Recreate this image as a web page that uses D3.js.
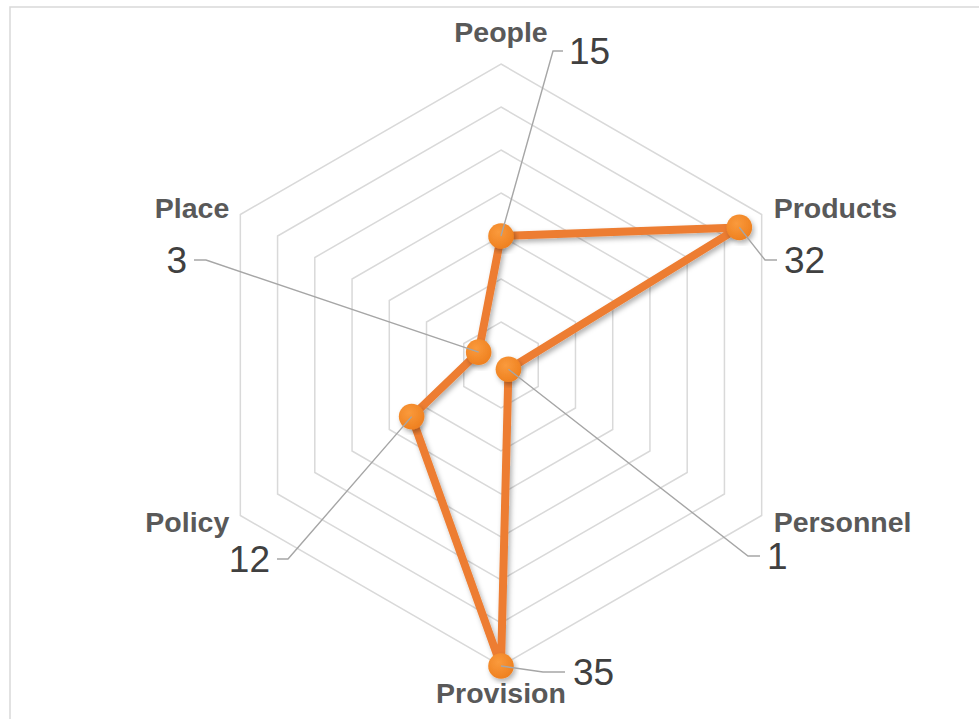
<!DOCTYPE html>
<html>
<head>
<meta charset="utf-8">
<script src="https://cdn.jsdelivr.net/npm/d3@7"></script>
<style>
  html, body { margin: 0; padding: 0; background: #fff; }
  svg { display: block; font-family: "Liberation Sans", Arial, sans-serif; }
</style>
</head>
<body>
<svg id="chart" width="979" height="719"></svg>
<script>
// data
const categories = ["People", "Products", "Personnel", "Provision", "Policy", "Place"];
const values = [15, 32, 1, 35, 12, 3];
const ringTicks = [5, 10, 15, 20, 25, 30, 35];

// layout for the axis names, relative to the outer hexagon vertex
const nameLayout = [
  { dx: 0, dy: -22, anchor: "middle" },
  { dx: 12, dy: 3, anchor: "start" },
  { dx: 12, dy: 16, anchor: "start" },
  { dx: 0, dy: 37, anchor: "middle" },
  { dx: -11, dy: 16, anchor: "end" },
  { dx: -11, dy: 3, anchor: "end" }
];
// elbow of each leader line + text anchor (absolute)
const valueLayout = [
  { ex: 553, ey: 51, hx: 563, anchor: "start", tx: 569 },
  { ex: 765, ey: 260, hx: 777, anchor: "start", tx: 784 },
  { ex: 748, ey: 556, hx: 760, anchor: "start", tx: 767 },
  { ex: 543, ey: 672, hx: 565, anchor: "start", tx: 573 },
  { ex: 288, ey: 559, hx: 277, anchor: "end", tx: 270 },
  { ex: 206, ey: 260, hx: 194, anchor: "end", tx: 187 }
];

const svg = d3.select("#chart");
const cx = 501, cy = 365;

// chart border
svg.append("rect")
  .attr("x", 10).attr("y", 7)
  .attr("width", 1000).attr("height", 1000)
  .attr("fill", "#fff")
  .attr("stroke", "#d9d9d9")
  .attr("stroke-width", 1.5);

const defs = svg.append("defs");
const grad = defs.append("radialGradient")
  .attr("id", "dot").attr("cx", "40%").attr("cy", "35%").attr("r", "70%");
grad.append("stop").attr("offset", "0%").attr("stop-color", "#fa9a3c");
grad.append("stop").attr("offset", "100%").attr("stop-color", "#ee7f1e");

const shadow = defs.append("filter")
  .attr("id", "shadow").attr("x", "-20%").attr("y", "-20%")
  .attr("width", "140%").attr("height", "140%");
shadow.append("feDropShadow")
  .attr("dx", 2).attr("dy", 3).attr("stdDeviation", 2.5)
  .attr("flood-color", "#000").attr("flood-opacity", 0.3);

const r = d3.scaleLinear().domain([0, 35]).range([0, 301]);
const angle = d3.scalePoint()
  .domain(categories)
  .range([0, 2 * Math.PI * (categories.length - 1) / categories.length]);

function pos(cat, v) {
  const a = angle(cat);
  return [cx + r(v) * Math.sin(a), cy - r(v) * Math.cos(a)];
}

// hexagon rings
const ring = d3.line().curve(d3.curveLinearClosed);
svg.append("g")
  .selectAll("path")
  .data(ringTicks)
  .join("path")
  .attr("d", (t) => ring(categories.map((c) => pos(c, t))))
  .attr("fill", "none")
  .attr("stroke", "#d9d9d9")
  .attr("stroke-width", 1.5);

// axis names
const maxV = d3.max(ringTicks);
svg.append("g")
  .selectAll("text")
  .data(categories)
  .join("text")
  .attr("x", (c, i) => pos(c, maxV)[0] + nameLayout[i].dx)
  .attr("y", (c, i) => pos(c, maxV)[1] + nameLayout[i].dy)
  .attr("text-anchor", (c, i) => nameLayout[i].anchor)
  .attr("font-size", 28.5)
  .attr("font-weight", "bold")
  .attr("fill", "#595959")
  .text((c) => c);

// series
const pts = categories.map((c, i) => pos(c, values[i]));
svg.append("path")
  .attr("d", ring(pts))
  .attr("fill", "none")
  .attr("stroke", "#ed7d31")
  .attr("stroke-width", 8)
  .attr("stroke-linejoin", "round")
  .attr("filter", "url(#shadow)");

svg.append("g")
  .selectAll("circle")
  .data(pts)
  .join("circle")
  .attr("cx", (d) => d[0])
  .attr("cy", (d) => d[1])
  .attr("r", 12.8)
  .attr("fill", "url(#dot)")
  .attr("filter", "url(#shadow)");

// leader lines
svg.append("g")
  .selectAll("polyline")
  .data(pts)
  .join("polyline")
  .attr("points", (d, i) => {
    const l = valueLayout[i];
    return [d, [l.ex, l.ey], [l.hx, l.ey]].map((p) => p.join(",")).join(" ");
  })
  .attr("fill", "none")
  .attr("stroke", "#a6a6a6")
  .attr("stroke-width", 1.4);

// value labels
svg.append("g")
  .selectAll("text")
  .data(values)
  .join("text")
  .attr("x", (v, i) => valueLayout[i].tx)
  .attr("y", (v, i) => valueLayout[i].ey)
  .attr("dy", "0.36em")
  .attr("text-anchor", (v, i) => valueLayout[i].anchor)
  .attr("font-size", 37)
  .attr("fill", "#404040")
  .text((v) => v);
</script>
</body>
</html>
